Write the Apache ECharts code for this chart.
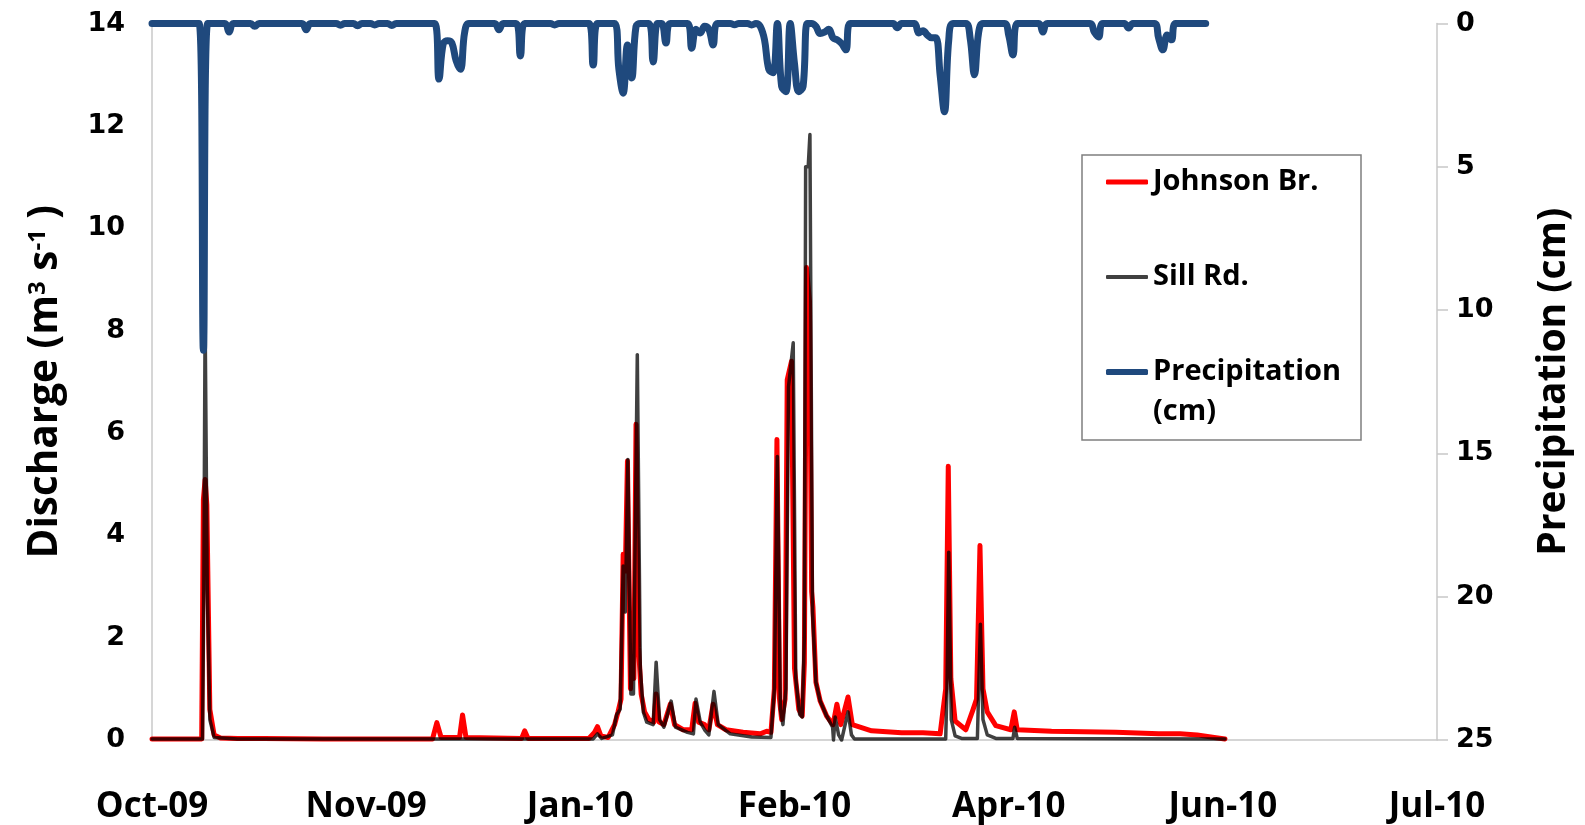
<!DOCTYPE html>
<html><head><meta charset="utf-8">
<script src="https://cdn.jsdelivr.net/npm/echarts@6/dist/echarts.min.js"></script>
<style>html,body{margin:0;padding:0;background:#fff}#c{width:1585px;height:825px}</style>
</head><body><div id="c"></div>
<script>
// x values are days since 1 Oct 2009
const xTickLabels = ['Oct-09','Nov-09','Jan-10','Feb-10','Apr-10','Jun-10','Jul-10'];
const xTickStep = 50;

// Johnson Br. discharge (m3/s): [day, value]
const johnsonBr = [
 [0,0.02],[11.6,0.02],[12.0,4.7],[12.4,5.09],[12.8,4.6],[13.5,0.6],[14.5,0.1],[16,0.04],[20,0.03],[26,0.03],[40,0.02],
 [65.5,0.02],[66.5,0.34],[67.5,0.05],[71.8,0.05],[72.5,0.49],[73.3,0.05],[86.3,0.03],[87,0.18],[87.8,0.03],
 [102,0.03],[103.3,0.15],[104,0.26],[104.8,0.08],[106.5,0.05],[108,0.3],[108.8,0.55],[109.5,0.8],[110,3.63],[110.5,3.3],
 [111,5.45],[111.7,1.0],[112.1,1.8],[112.5,1.2],[113,6.17],[113.6,1.8],[114.2,0.9],[115,0.55],[116,0.4],[117.2,0.35],
 [117.7,0.9],[118.4,0.35],[119.5,0.3],[121,0.7],[122,0.3],[124,0.2],[126,0.2],[126.8,0.72],[127.6,0.35],[129,0.3],
 [130,0.2],[131,0.7],[132,0.3],[134,0.2],[138,0.15],[142,0.12],[143.5,0.17],[144.5,0.15],[145.3,1.0],[145.9,5.87],
 [146.5,0.8],[147,0.4],[147.8,0.8],[148.3,7.04],[149.3,7.4],[150,1.4],[151,0.6],[151.8,0.47],[152.3,1.5],[152.8,9.23],
 [153.5,8.57],[154.0,2.9],[154.3,2.6],[155,1.13],[156,0.76],[157.5,0.47],[159,0.3],[159.9,0.7],[160.8,0.3],[162.5,0.84],
 [163.5,0.3],[168,0.18],[175,0.14],[180,0.14],[184,0.12],[185.3,1.0],[185.9,5.35],[186.5,1.2],[187.5,0.37],[190,0.2],
 [191.7,0.6],[192.5,0.8],[193.3,3.8],[194,1.0],[195,0.55],[197,0.28],[200.5,0.2],[201.3,0.55],[202,0.2],[210,0.17],
 [225,0.15],[235,0.12],[240,0.12],[244,0.1],[248,0.05],[250.5,0.02]
];

// Sill Rd. discharge (m3/s): [day, value]
const sillRd = [
 [0,0.02],[11.8,0.02],[12.1,3],[12.4,8.25],[12.9,3],[13.5,0.4],[14.5,0.05],[20,0.02],[103,0.02],[104,0.12],[105,0.03],
 [107.5,0.1],[108.5,0.5],[109.3,0.6],[110,3.4],[110.5,2.5],[111.1,5.48],[111.8,0.9],[112.4,0.9],[113.3,7.53],[114,1.4],
 [114.7,0.55],[115.5,0.35],[117,0.3],[117.7,1.52],[118.5,0.4],[119.5,0.25],[121.2,0.76],[122.2,0.25],[125,0.15],
 [126.4,0.12],[127,0.8],[128,0.35],[129,0.2],[130,0.1],[131.2,0.95],[132.2,0.3],[135,0.12],[140,0.06],[144.5,0.05],
 [145.3,1.0],[146.0,5.54],[146.7,0.6],[147.3,0.3],[148,1.0],[148.6,6.9],[149.7,7.76],[150.3,1.2],[151.2,0.5],[151.8,0.45],
 [152.3,2],[152.6,11.2],[153.2,11.2],[153.6,11.83],[154.2,2.5],[155,1.13],[156,0.76],[157.5,0.47],[158.9,0.25],[159.1,0.0],
 [159.5,0.45],[160.3,0.1],[161,0.0],[162.5,0.55],[163.3,0.1],[164,0.02],[185.3,0.02],[185.6,1],[186.0,3.67],[186.6,0.4],
 [187.5,0.08],[189,0.03],[192.7,0.03],[193.0,1],[193.4,2.26],[194,0.4],[195,0.1],[197,0.03],[201,0.03],[201.4,0.25],
 [202,0.03],[250.5,0.02]
];

// Daily precipitation (cm): [day, value]
const precipitation = [
 [0,0],[11,0],[12,11.4],[13,0],[17,0],[18,0.3],[19,0],[23,0],[24,0.1],[25,0],[35,0],[36,0.22],[37,0],
 [43,0],[44,0.06],[45,0],[47,0],[48,0.08],[49,0],[51,0],[52,0.05],[53,0],[55,0],[56,0.07],[57,0],
 [66,0],[67,1.94],[68,0.7],[69,0.6],[70,0.68],[71,1.3],[72,1.6],[73,0.3],[74,0],
 [80,0],[81,0.22],[82,0],[85,0],[86,1.13],[87,0],[93,0],[94,0.05],[95,0],[102,0],[103,1.45],[104,0],
 [108,0],[109,1.6],[110,2.43],[111,0.75],[112,1.9],[113,0.1],[114,0],[116,0],[117,1.34],[118,0],[119,0],[120,0.68],[121,0],
 [125,0],[126,0.86],[127,0.2],[128,0.33],[129,0.1],[130,0.2],[131,0.75],[132,0],[135,0],[136,0.04],[137,0],[139,0],[140,0.05],[141,0],
 [142,0.1],[143,0.57],[144,1.6],[145,1.72],[146,0],[147,2.2],[148,2.38],[149,0],[150,1.4],[151,2.38],[152,2.2],[153,0],
 [154,0],[155,0.1],[156,0.35],[157,0.3],[158,0.2],[159,0.5],[160,0.57],[161,0.7],[162,0.92],[163,0],
 [173,0],[174,0.15],[175,0],
 [178,0],[179,0.33],[180,0.25],[181,0.4],[182,0.5],[183,0.5],[184,1.8],[185,3.08],[186,0.6],[187,0],
 [190,0],[191,0.5],[192,1.79],[193,0.3],[194,0],[199,0],[200,0.4],[201,1.1],[202,0],[207,0],[208,0.3],[209,0],
 [219,0],[220,0.3],[221,0.47],[222,0],[227,0],[228,0.16],[229,0],[234,0],[235,0.5],[236,0.92],[237,0.4],[238,0.57],[239,0],[246,0]
];

const chart = echarts.init(document.getElementById('c'), null, {renderer: 'canvas'});
const legendText = {fontFamily: 'Open Sans', fontWeight: 'bold', fontSize: 29, color: '#000', lineHeight: 32};
const axisLabelFont = {fontFamily: 'DejaVu Sans', fontWeight: 'bold', fontSize: 27, color: '#000'};
const titleFont = {fontFamily: 'Open Sans', fontWeight: 'bold', color: '#000'};

chart.setOption({
  animation: false,
  backgroundColor: '#fff',
  grid: {left: 152, right: 148, top: 23.5, bottom: 84, containLabel: false},
  xAxis: {
    type: 'value', min: 0, max: xTickStep * (xTickLabels.length - 1), interval: xTickStep,
    axisLine: {show: true, lineStyle: {color: '#c8c8c8', width: 1.5}},
    axisTick: {show: false}, splitLine: {show: false},
    axisLabel: {
      margin: 50, fontFamily: 'Open Sans', fontWeight: 'bold', fontSize: 35, color: '#000',
      formatter: v => xTickLabels[Math.round(v / xTickStep)]
    }
  },
  yAxis: [{
    type: 'value', min: 0, max: 14, interval: 2, position: 'left',
    axisLine: {show: true, lineStyle: {color: '#c8c8c8', width: 1.5}},
    axisTick: {show: false}, splitLine: {show: false},
    axisLabel: Object.assign({margin: 27}, axisLabelFont),
    name: '{a|Discharge (m}{s|3}{a| s}{s|-1}{a| )}',
    nameLocation: 'middle', nameRotate: 90, nameGap: 83,
    nameTextStyle: Object.assign({fontSize: 40.5, rich: {
      a: Object.assign({fontSize: 40.5, lineHeight: 47}, titleFont),
      s: Object.assign({fontSize: 24, lineHeight: 24, verticalAlign: 'top', padding: [4,0,0,0]}, titleFont)
    }}, titleFont)
  }, {
    type: 'value', min: 0, max: 25, interval: 5, position: 'right', inverse: true,
    axisLine: {show: true, lineStyle: {color: '#c8c8c8', width: 1.5}},
    axisTick: {show: true, length: 11, lineStyle: {color: '#c8c8c8', width: 1.5}},
    splitLine: {show: false},
    axisLabel: Object.assign({margin: 19}, axisLabelFont),
    name: 'Precipitation (cm)',
    nameLocation: 'middle', nameRotate: 90, nameGap: 97,
    nameTextStyle: Object.assign({fontSize: 39}, titleFont)
  }],
  legend: [{
    data: ['Johnson Br.'], orient: 'vertical', left: 1106, top: 166, padding: 0,
    icon: 'roundRect', itemWidth: 42, itemHeight: 5, itemStyle: {color: '#ff0000'},
    textStyle: legendText, selectedMode: false
  }, {
    data: ['Sill Rd.'], orient: 'vertical', left: 1106, top: 261, padding: 0,
    icon: 'roundRect', itemWidth: 42, itemHeight: 4, itemStyle: {color: '#404040'},
    textStyle: legendText, selectedMode: false
  }, {
    data: ['Precipitation (cm)'], orient: 'vertical', left: 1106, top: 312, padding: 0,
    icon: 'roundRect', itemWidth: 42, itemHeight: 6, itemStyle: {color: '#1f497d'},
    formatter: () => ' \nPrecipitation\n(cm)',
    textStyle: Object.assign({}, legendText, {lineHeight: 40}),
    selectedMode: false
  }],
  graphic: [{
    type: 'rect', shape: {x: 1082, y: 155, width: 279, height: 285},
    style: {fill: 'none', stroke: '#7f7f7f', lineWidth: 1.5}, z: 100
  }],
  series: [{
    name: 'Johnson Br.', type: 'line', yAxisIndex: 0, data: johnsonBr,
    showSymbol: false, symbol: 'none', clip: false, z: 2,
    lineStyle: {color: '#ff0000', width: 5, join: 'round', cap: 'round'}, itemStyle: {color: '#ff0000'}
  }, {
    name: 'Sill Rd.', type: 'line', yAxisIndex: 0, data: sillRd,
    showSymbol: false, symbol: 'none', clip: false, z: 3,
    lineStyle: {color: '#000000', opacity: 0.75, width: 3.5, join: 'round', cap: 'round'}, itemStyle: {color: '#404040'}
  }, {
    name: 'Precipitation (cm)', type: 'line', yAxisIndex: 1, data: precipitation,
    showSymbol: false, symbol: 'none', clip: false, smooth: 0.4, z: 4,
    lineStyle: {color: '#1f497d', width: 7, join: 'round', cap: 'round'}, itemStyle: {color: '#1f497d'}
  }]
});
</script>
</body></html>
